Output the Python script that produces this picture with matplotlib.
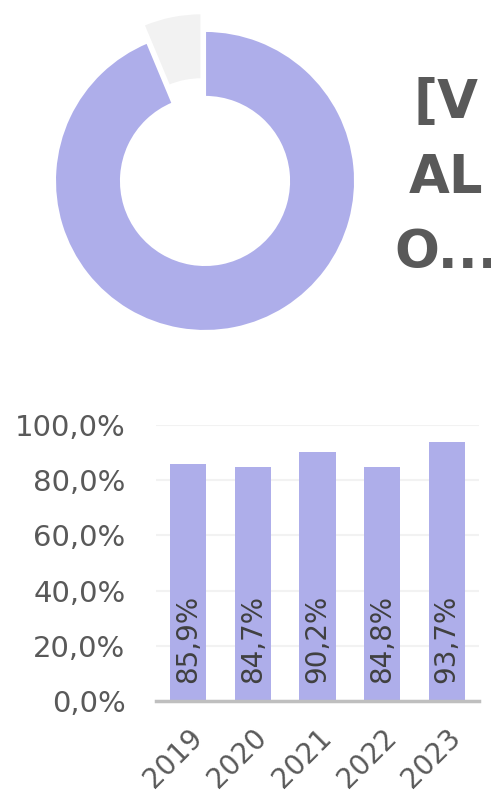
import matplotlib.pyplot as plt
import numpy as np

# data
donut_vals = [6.3, 93.7]
donut_cols = ['#f2f2f2', '#aeaeea']
years = ['2019', '2020', '2021', '2022', '2023']
rates = [85.9, 84.7, 90.2, 84.8, 93.7]
yticks = [0, 20, 40, 60, 80, 100]

txt_col = '#595959'
bar_col = '#aeaeea'

fig = plt.figure(figsize=(4.91, 7.94), dpi=100)

# donut
ax1 = fig.add_axes([0.0713, 0.558, 0.6925, 0.4282])
ax1.pie(donut_vals, colors=donut_cols, startangle=90, counterclock=True,
        explode=[0.12, 0], radius=1.0,
        wedgeprops=dict(width=0.44, edgecolor='white', linewidth=1.5))
ax1.set_xlim(-1.133, 1.133)
ax1.set_ylim(-1.133, 1.133)
ax1.set_aspect('equal')
ax1.axis('off')

fig.text(446 / 491, 1 - 178 / 794, '[V\nAL\nO...', ha='center', va='center',
         fontsize=38, fontweight='bold', color=txt_col, linespacing=1.55)

# bars
ax2 = fig.add_axes([156 / 491, 93 / 794, 323 / 491, 276 / 794])
x = np.arange(len(years))
ax2.bar(x, rates, width=0.56, color=bar_col, zorder=2)
for xi, v in zip(x, rates):
    lab = ('%.1f%%' % v).replace('.', ',')
    ax2.annotate(lab, (xi, 0), xytext=(0, 13), textcoords='offset points',
                 rotation=90, ha='center', va='bottom', fontsize=20,
                 color='#404040', zorder=3)

ax2.set_xlim(-0.5, 4.5)
ax2.set_ylim(0, 100)
ax2.set_yticks(yticks)
ax2.set_yticklabels([('%.1f%%' % t).replace('.', ',') for t in yticks])
ax2.set_xticks(x)
ax2.set_xticklabels(years, rotation=45, ha='right', rotation_mode='anchor')
ax2.tick_params(axis='y', length=0, pad=22, labelsize=21, labelcolor=txt_col)
ax2.tick_params(axis='x', length=0, pad=16, labelsize=20, labelcolor=txt_col)
ax2.grid(axis='y', color='#f2f2f2', linewidth=1.5, zorder=0)
for s in ['top', 'right', 'left']:
    ax2.spines[s].set_visible(False)
ax2.spines['bottom'].set_color('#bfbfbf')
ax2.spines['bottom'].set_linewidth(2.5)
ax2.spines['bottom'].set_zorder(4)

fig.savefig('out.png', dpi=100)
